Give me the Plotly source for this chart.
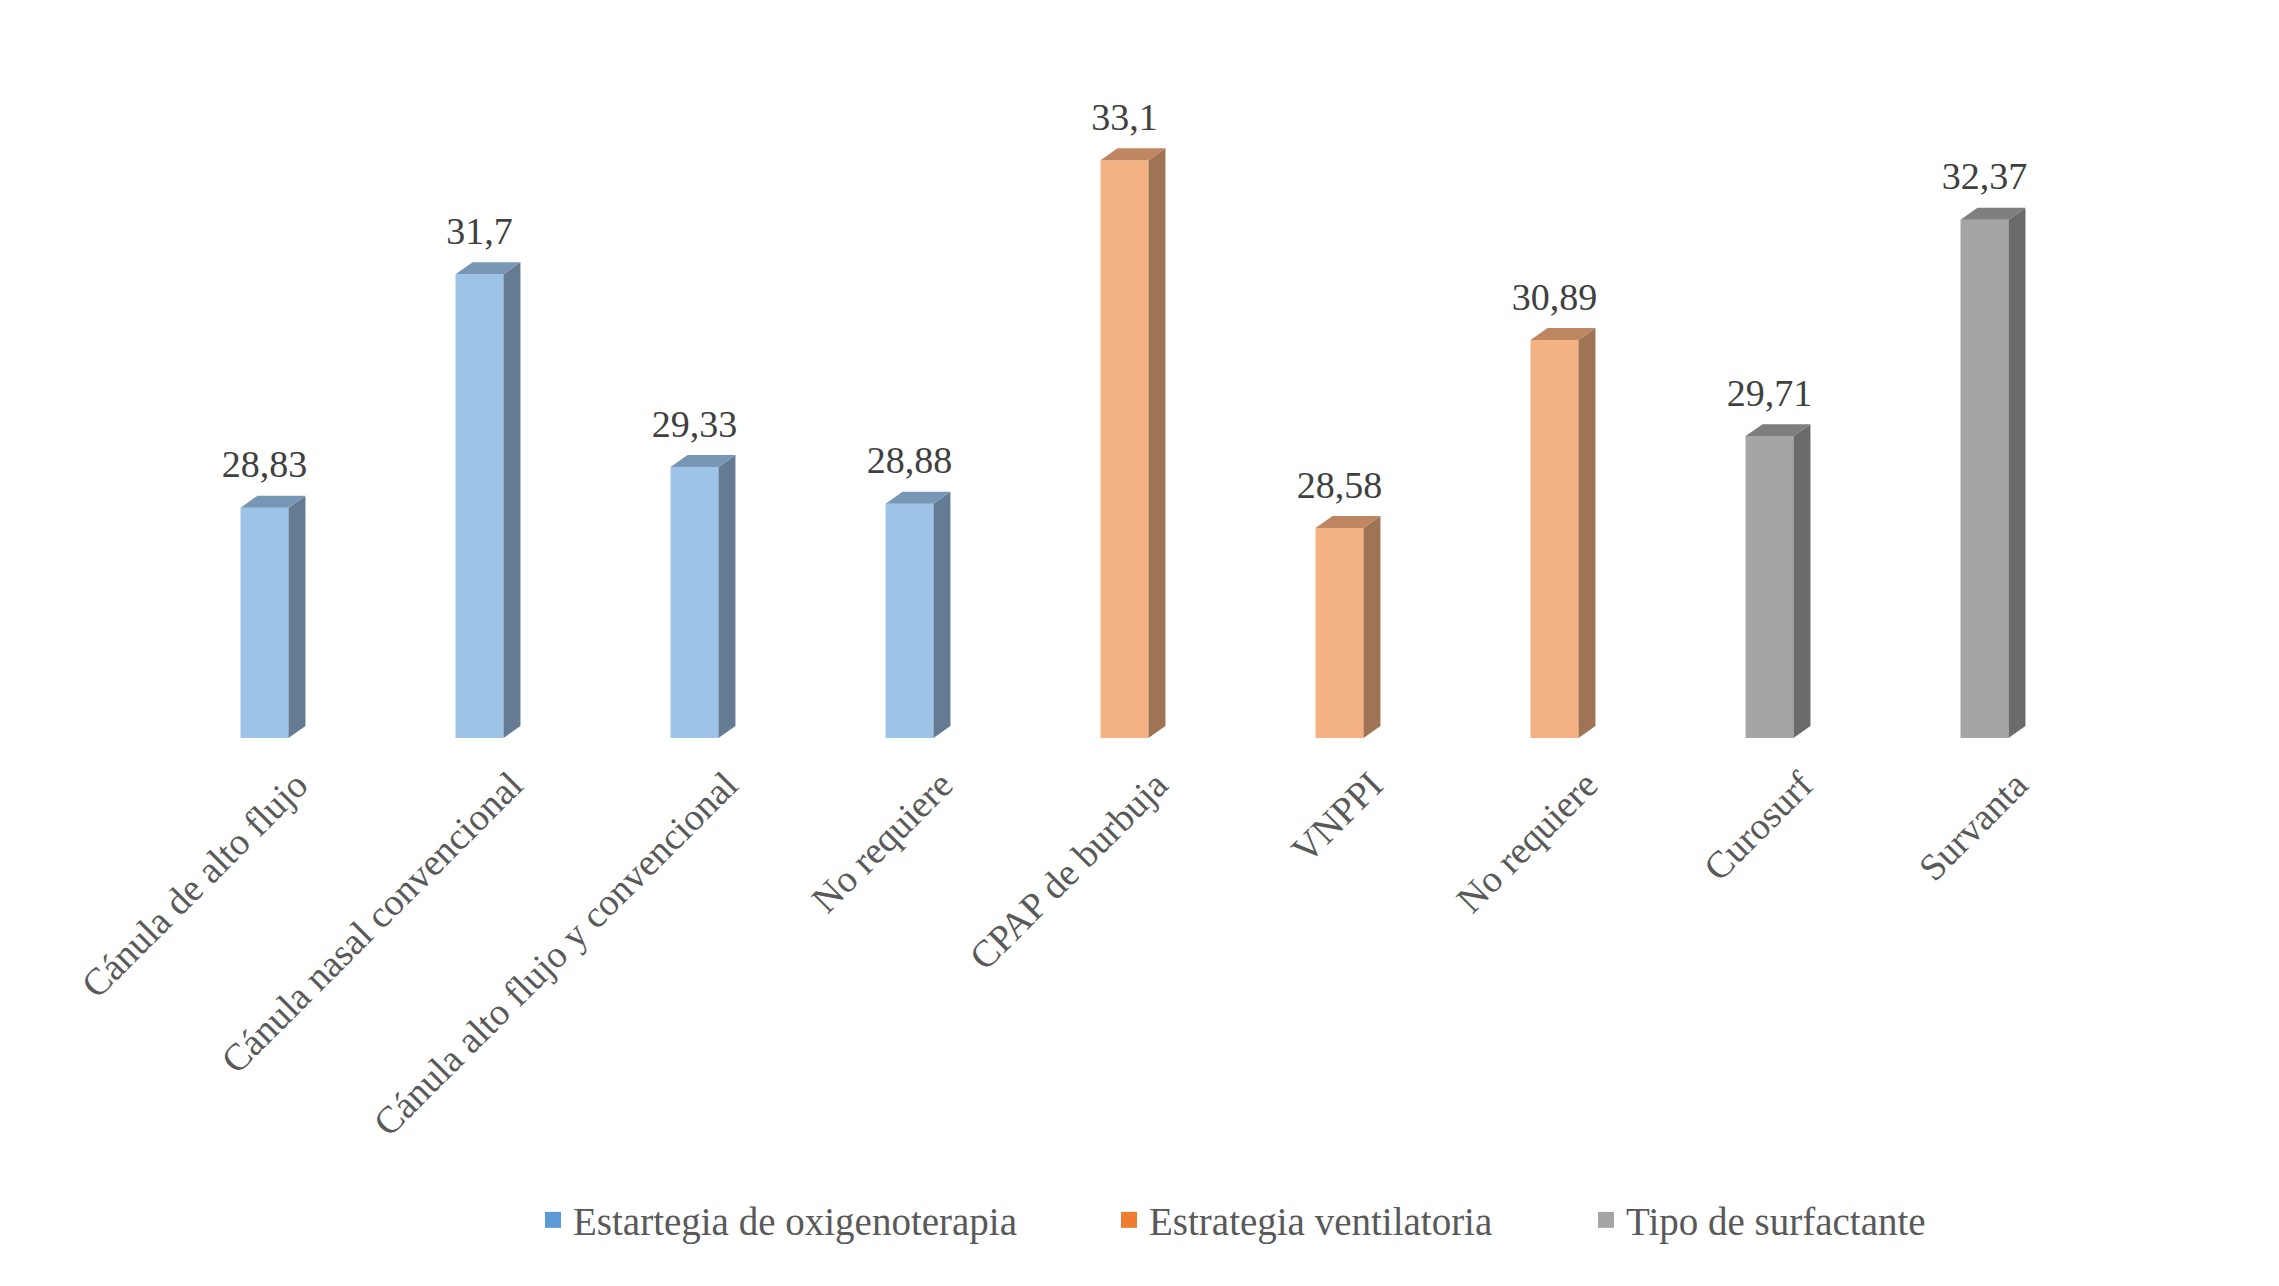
import plotly.graph_objects as go

categories = ["Cánula de alto flujo", "Cánula nasal convencional", "Cánula alto flujo y convencional",
              "No requiere", "CPAP de burbuja", "VNPPI", "No requiere", "Curosurf", "Survanta"]
values = [28.83, 31.7, 29.33, 28.88, 33.1, 28.58, 30.89, 29.71, 32.37]
group_of = [0, 0, 0, 0, 1, 1, 1, 2, 2]
series_names = ["Estartegia de oxigenoterapia", "Estrategia ventilatoria", "Tipo de surfactante"]

front_colors = ["#9DC3E6", "#F4B183", "#A5A5A5"]
side_colors = ["#647B93", "#9E7454", "#6B6B6B"]
top_colors = ["#7896B5", "#BF8662", "#7E7E7E"]
legend_colors = ["#5B9BD5", "#ED7D31", "#A5A5A5"]

Y0 = 26
W = 0.223
DX = 0.079
DY = 0.147
LABEL_PAD = 0.11
FONT = "Liberation Serif"

fig = go.Figure()
xs = list(range(len(categories)))

# front faces (bars)
for g in range(3):
    idx = [i for i in xs if group_of[i] == g]
    fig.add_trace(go.Bar(x=[xs[i] for i in idx], y=[values[i] for i in idx], width=W,
                         marker=dict(color=front_colors[g], line=dict(width=0)),
                         showlegend=False, hoverinfo="skip"))

# side and top faces
for i in xs:
    g = group_of[i]
    v = values[i]
    xr = i + W / 2
    xl = i - W / 2
    fig.add_trace(go.Scatter(x=[xr, xr + DX, xr + DX, xr, xr], y=[Y0, Y0 + DY, v + DY, v, Y0],
                             mode="lines", fill="toself", fillcolor=side_colors[g],
                             line=dict(width=0, color=side_colors[g]), showlegend=False, hoverinfo="skip"))
    fig.add_trace(go.Scatter(x=[xl, xr, xr + DX, xl + DX, xl], y=[v, v, v + DY, v + DY, v],
                             mode="lines", fill="toself", fillcolor=top_colors[g],
                             line=dict(width=0, color=top_colors[g]), showlegend=False, hoverinfo="skip"))

# data labels
fig.add_trace(go.Scatter(x=xs, y=[v + DY + LABEL_PAD for v in values], mode="text",
                         text=[str(v).replace(".", ",") for v in values], textposition="top center",
                         textfont=dict(family=FONT, size=38, color="#404040"),
                         showlegend=False, hoverinfo="skip"))

# legend entries
legend_ids = ["legend", "legend2", "legend3"]
legend_x = [525, 1101, 1578]
for g in range(3):
    fig.add_trace(go.Scatter(x=[None], y=[None], mode="markers", name=series_names[g],
                             marker=dict(symbol="square", size=18, color=legend_colors[g]),
                             legend=legend_ids[g]))

W_PX, H_PX = 2279, 1286
layout_legends = {}
for g in range(3):
    layout_legends[legend_ids[g]] = dict(
        xref="container", yref="container", x=legend_x[g] / W_PX, xanchor="left",
        y=1 - 1212 / H_PX, yanchor="middle", orientation="h",
        font=dict(family=FONT, size=39, color="#595959"), bgcolor="rgba(0,0,0,0)")

fig.update_layout(
    width=W_PX, height=H_PX,
    margin=dict(l=149, r=195, t=79, b=556),
    plot_bgcolor="white", paper_bgcolor="white",
    barmode="overlay",
    xaxis=dict(range=[-0.5, 8.5], tickmode="array", tickvals=xs, ticktext=categories,
               tickangle=-45, showgrid=False, zeroline=False, showline=False, ticks="",
               tickfont=dict(family=FONT, size=38, color="#595959"),
               ticklabelshift=32, ticklabelstandoff=16),
    yaxis=dict(range=[26, 34], visible=False, showgrid=False, zeroline=False),
    **layout_legends,
)

fig.write_html("out.html")
